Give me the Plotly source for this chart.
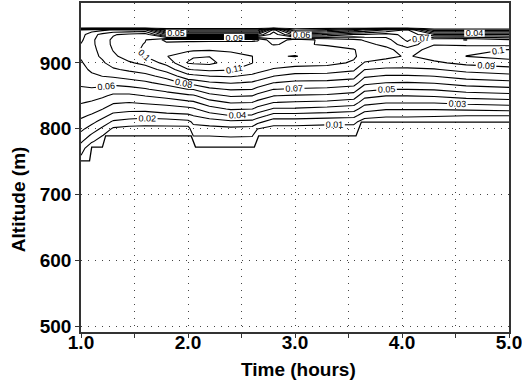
import numpy as np
import plotly.graph_objects as go

# Time axis (hours) of the measurement columns
times = [1.0, 1.1, 1.2, 1.3, 1.45, 1.6, 1.8, 2.0, 2.05, 2.2, 2.4, 2.6, 2.65,
         2.8, 3.0, 3.3, 3.55, 3.65, 3.85, 4.05, 4.3, 4.6, 5.0]
# Altitude levels (m)
altitudes = [750, 760, 770, 780, 790, 800, 810, 820, 830, 840, 850, 860, 870,
             880, 890, 900, 910, 920, 928, 935, 943, 950, 954]

# Concentration profiles, one list per time column (bottom -> top)
c100 = [0.005, 0.0102, 0.0155, 0.021, 0.027, 0.0325, 0.0375, 0.042, 0.0465, 0.0508, 0.0548, 0.0588, 0.0617, 0.064, 0.0665, 0.0688, 0.0712, 0.0718, 0.0705, 0.068, 0.066, 0.061, 0]
c110 = [0, 0, 0, 0.011, 0.0185, 0.0257, 0.0325, 0.0388, 0.044, 0.049, 0.054, 0.059, 0.0635, 0.068, 0.072, 0.075, 0.077, 0.0775, 0.078, 0.078, 0.076, 0.065, 0]
c120 = [0, 0, 0, 0.004, 0.0105, 0.018, 0.026, 0.0335, 0.0402, 0.046, 0.0518, 0.0577, 0.064, 0.0702, 0.075, 0.0785, 0.0815, 0.083, 0.0845, 0.085, 0.083, 0.068, 0]
c130 = [0, 0, 0, 0, 0.004, 0.0085, 0.018, 0.027, 0.0347, 0.0413, 0.048, 0.0555, 0.0633, 0.0715, 0.0786, 0.0845, 0.088, 0.0905, 0.092, 0.092, 0.089, 0.071, 0]
c145 = [0, 0, 0, 0, 0.003, 0.007, 0.015, 0.0255, 0.0328, 0.0402, 0.0477, 0.0564, 0.0655, 0.0742, 0.082, 0.0887, 0.0945, 0.097, 0.097, 0.096, 0.093, 0.071, 0]
c160 = [0, 0, 0, 0, 0.003, 0.007, 0.0138, 0.0245, 0.0333, 0.0417, 0.0502, 0.0591, 0.0682, 0.0767, 0.085, 0.0928, 0.1003, 0.1015, 0.1005, 0.0995, 0.096, 0.072, 0]
c180 = [0, 0, 0, 0, 0.003, 0.007, 0.0143, 0.0266, 0.0358, 0.0434, 0.054, 0.064, 0.074, 0.084, 0.094, 0.1036, 0.1095, 0.106, 0.107, 0.113, 0.061, 0.021, 0]
c200 = [0, 0, 0, 0, 0.003, 0.006, 0.0167, 0.028, 0.0373, 0.0478, 0.0578, 0.0702, 0.0838, 0.0963, 0.1095, 0.1205, 0.1183, 0.107, 0.105, 0.113, 0.061, 0.021, 0]
c205 = [0, 0, 0, 0.005, 0.0105, 0.0165, 0.022, 0.0302, 0.0385, 0.0485, 0.0585, 0.0705, 0.0845, 0.0975, 0.1105, 0.1215, 0.1195, 0.108, 0.105, 0.113, 0.061, 0.021, 0]
c220 = [0, 0, 0, 0.006, 0.0105, 0.0167, 0.0244, 0.0356, 0.046, 0.056, 0.0667, 0.0778, 0.0889, 0.1002, 0.1125, 0.1225, 0.1198, 0.109, 0.1045, 0.113, 0.061, 0.021, 0]
c240 = [0, 0, 0, 0.006, 0.0115, 0.0176, 0.0275, 0.0402, 0.0511, 0.061, 0.071, 0.081, 0.091, 0.101, 0.111, 0.1155, 0.1148, 0.1075, 0.1045, 0.113, 0.061, 0.021, 0]
c260 = [0, 0, 0, 0.006, 0.011, 0.017, 0.0263, 0.0388, 0.0502, 0.0602, 0.0702, 0.0802, 0.089, 0.098, 0.1055, 0.1102, 0.1101, 0.106, 0.104, 0.113, 0.061, 0.021, 0]
c265 = [0, 0, 0, 0, 0.004, 0.0102, 0.0225, 0.0352, 0.0467, 0.057, 0.067, 0.077, 0.087, 0.0964, 0.1035, 0.1075, 0.1075, 0.105, 0.104, 0.112, 0.061, 0.021, 0]
c280 = [0, 0, 0, 0, 0.004, 0.007, 0.0138, 0.0263, 0.0388, 0.0502, 0.0602, 0.0702, 0.0802, 0.0902, 0.0991, 0.1055, 0.109, 0.1055, 0.0995, 0.091, 0.086, 0.075, 0]
c300 = [0, 0, 0, 0, 0.004, 0.007, 0.0138, 0.0263, 0.0388, 0.049, 0.059, 0.069, 0.078, 0.0864, 0.0964, 0.104, 0.1105, 0.1065, 0.1015, 0.105, 0.055, 0.018, 0]
c330 = [0, 0, 0, 0, 0.004, 0.0065, 0.0125, 0.0248, 0.0367, 0.0478, 0.058, 0.068, 0.0773, 0.0864, 0.095, 0.1033, 0.105, 0.1035, 0.099, 0.097, 0.061, 0.025, 0]
c355 = [0, 0, 0, 0, 0.004, 0.0065, 0.0122, 0.0233, 0.0344, 0.0452, 0.0552, 0.0652, 0.0752, 0.0836, 0.0917, 0.0986, 0.1015, 0.1005, 0.096, 0.092, 0.071, 0.035, 0]
c365 = [0, 0, 0, 0, 0, 0, 0.005, 0.0142, 0.0242, 0.0342, 0.0432, 0.0532, 0.0632, 0.0718, 0.0802, 0.0892, 0.0955, 0.0965, 0.093, 0.089, 0.071, 0.041, 0]
c385 = [0, 0, 0, 0, 0, 0, 0.004, 0.0118, 0.0209, 0.0309, 0.0402, 0.0502, 0.0602, 0.0691, 0.0782, 0.0862, 0.0925, 0.093, 0.0875, 0.084, 0.075, 0.051, 0]
c405 = [0, 0, 0, 0, 0, 0, 0.004, 0.0118, 0.0209, 0.0309, 0.0402, 0.0502, 0.0596, 0.0691, 0.0782, 0.0855, 0.089, 0.0845, 0.0735, 0.068, 0.066, 0.062, 0]
c430 = [0, 0, 0, 0, 0, 0, 0.004, 0.011, 0.021, 0.031, 0.041, 0.051, 0.061, 0.0702, 0.0792, 0.0882, 0.094, 0.0945, 0.0895, 0.088, 0.051, 0.015, 0]
c460 = [0, 0, 0, 0, 0, 0, 0.004, 0.0102, 0.0222, 0.0333, 0.0444, 0.055, 0.065, 0.0745, 0.0836, 0.0927, 0.1001, 0.0985, 0.0875, 0.0902, 0.051, 0.015, 0]
c500 = [0, 0, 0, 0, 0, 0, 0.004, 0.0102, 0.0238, 0.035, 0.0463, 0.0572, 0.0672, 0.0772, 0.0864, 0.0955, 0.1035, 0.1002, 0.0865, 0.081, 0.051, 0.015, 0]

profiles = [c100, c110, c120, c130, c145, c160, c180, c200, c205, c220, c240,
            c260, c265, c280, c300, c330, c355, c365, c385, c405, c430, c460, c500]

# Lower edge of the measured domain
edge_time = [1.0, 1.08, 1.1, 1.2, 1.23, 2.03, 2.07, 2.62, 2.66, 3.57, 3.62, 5.0]
edge_alt = [751, 751, 772, 772, 789, 789, 772, 772, 789, 789, 810, 810]

x_tickvals = [1.0, 1.5, 2.0, 2.5, 3.0, 3.5, 4.0, 4.5, 5.0]
x_ticktext = ["1.0", "", "2.0", "", "3.0", "", "4.0", "", "5.0"]
y_tickvals = [500, 600, 700, 800, 900]

z = np.array(profiles).T  # rows = altitudes, cols = times

FONT = "Liberation Sans, Arial, sans-serif"

fig = go.Figure()
fig.add_trace(go.Contour(
    x=times, y=altitudes, z=z,
    colorscale=[[0, "black"], [1, "black"]],
    showscale=False,
    contours=dict(coloring="lines", start=0.01, end=0.12, size=0.01,
                  showlabels=True,
                  labelfont=dict(size=9, color="black", family=FONT),
                  labelformat=".2~f"),
    line=dict(width=1.1, smoothing=0),
    hoverinfo="skip",
))
fig.add_trace(go.Scatter(
    x=edge_time, y=edge_alt, mode="lines",
    line=dict(color="black", width=1.3), hoverinfo="skip", showlegend=False,
))

axis_common = dict(
    showline=True, mirror=True, linecolor="#333333", linewidth=1.5,
    ticks="outside", ticklen=4, tickcolor="#333333", tickwidth=1,
    showgrid=True, gridcolor="#444444", gridwidth=1, griddash="1px,6px",
    zeroline=False, automargin=False,
    tickfont=dict(family=FONT, size=19, color="black", weight="bold"),
)

fig.update_xaxes(range=[1, 5], tickvals=x_tickvals, ticktext=x_ticktext,
                 ticklabelstandoff=-12, ticklabeloverflow="allow", **axis_common)
fig.update_yaxes(range=[491, 991], tickvals=y_tickvals, **axis_common)

fig.update_layout(
    width=522, height=387,
    margin=dict(l=81, r=13, t=3, b=55),
    paper_bgcolor="white", plot_bgcolor="white",
    showlegend=False,
    annotations=[
        dict(text="Time (hours)", xref="paper", yref="paper", x=0.509, y=-0.115,
             xanchor="center", yanchor="middle", showarrow=False,
             font=dict(family=FONT, size=19, color="black", weight="bold")),
        dict(text="Altitude (m)", xref="paper", yref="paper", x=-0.147, y=0.404,
             xanchor="center", yanchor="middle", showarrow=False, textangle=-90,
             font=dict(family=FONT, size=19, color="black", weight="bold")),
    ],
)

fig.write_html("out.html", config={"displayModeBar": False},
               post_script="document.body.style.margin='0';document.body.style.overflow='hidden';")
